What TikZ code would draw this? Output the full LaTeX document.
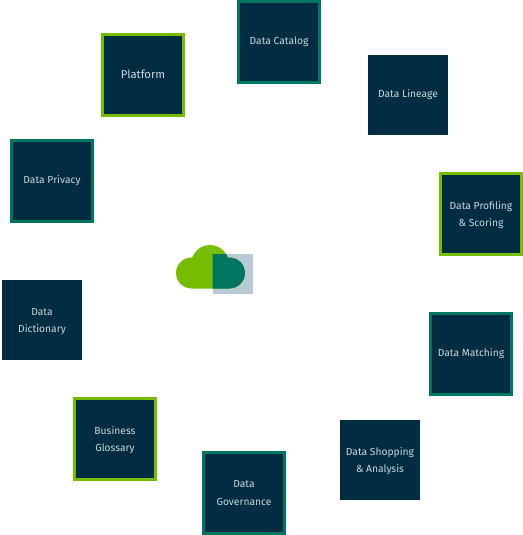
\documentclass[tikz,border=0pt]{standalone}
\usepackage{fontspec}
\setmainfont{Fira Sans}
\usepackage{color,xcolor}
\definecolor{nv}{HTML}{022C42}
\definecolor{tl}{HTML}{00755F}
\definecolor{gr}{HTML}{76BC00}
\definecolor{tx}{HTML}{C8D6DE}
\definecolor{sq}{HTML}{BACAD4}
\newcommand{\lowstrut}{\rule{0pt}{7pt}}
\tikzset{
  plainbox/.style={fill=nv,text=tx,minimum size=60pt,inner sep=0pt,align=center,font=\fontsize{7.7}{12.8}\selectfont},
  tealbox/.style={plainbox,draw=tl,line width=2.25pt,minimum size=60.75pt},
  greenbox/.style={plainbox,draw=gr,line width=2.25pt,minimum size=60.75pt},
}
\begin{document}
\begin{tikzpicture}[x=0.75pt,y=-0.75pt]
            \useasboundingbox (0,0) rectangle (523,535);
            % boxes
            \node[greenbox,font=\fontsize{8.5}{12.8}\selectfont] (platform) at (143,75) {\rule[-1.5pt]{0pt}{0pt}Platform};
            \node[tealbox] (catalog) at (279,42) {Data Catalog};
            \node[plainbox] (lineage) at (408,95) {Data Lineage};
            \node[greenbox] (profiling) at (481,214) {\lowstrut Data Profiling\\\& Scoring};
            \node[tealbox] (matching) at (471,354) {Data Matching};
            \node[plainbox] (shopping) at (380,460) {\lowstrut Data Shopping\\\& Analysis};
            \node[tealbox] (governance) at (244,493) {Data\\Governance};
            \node[greenbox] (glossary) at (115,439) {\lowstrut Business\\Glossary};
            \node[plainbox] (dictionary) at (42,320) {\lowstrut Data\\Dictionary};
            \node[tealbox] (privacy) at (52,181) {Data Privacy};
            % cloud
            \fill[sq] (212.5,254) rectangle (252.5,293.5);
            \fill[gr] (191.5,273) circle [radius=11.6pt] (229.5,273) circle [radius=11.6pt]
              (210,264) circle [radius=14.2pt] (191.5,258.5) rectangle (229.5,288.5);
            \begin{scope}
              \clip (212.5,254) rectangle (252.5,293.5);
              \fill[tl] (191.5,273) circle [radius=11.6pt] (229.5,273) circle [radius=11.6pt]
                (210,264) circle [radius=14.2pt] (191.5,258.5) rectangle (229.5,288.5);
            \end{scope}
          \end{tikzpicture}
\end{document}
